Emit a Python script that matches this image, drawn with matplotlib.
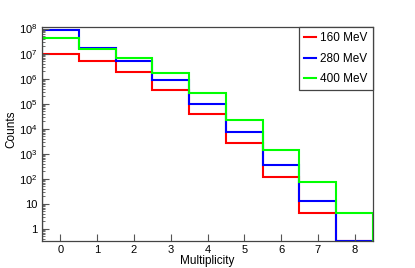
import numpy as np
import matplotlib
matplotlib.use("Agg")
import matplotlib.pyplot as plt
from matplotlib.ticker import FixedLocator, FuncFormatter, LogLocator, NullFormatter

plt.rcParams['font.family'] = ['Liberation Sans', 'DejaVu Sans']
plt.rcParams['mathtext.fontset'] = 'custom'
plt.rcParams['mathtext.rm'] = 'Liberation Sans'
plt.rcParams['mathtext.it'] = 'Liberation Sans'

multiplicity = [0, 1, 2, 3, 4, 5, 6, 7, 8]
edges = np.arange(-0.5, 9.0, 1.0)
labels = ["160 MeV", "280 MeV", "400 MeV"]
colors = ["#ff0000", "#0000ff", "#00ff00"]
counts_160 = [1.0e7, 4.9e6, 1.8e6, 3.5e5, 3.9e4, 2.8e3, 120, 4.5, 0]
counts_280 = [8.5e7, 1.7e7, 5.1e6, 8.7e5, 9.6e4, 7.3e3, 365, 13, 0]
counts_400 = [4.3e7, 1.5e7, 6.5e6, 1.7e6, 2.6e5, 2.3e4, 1.4e3, 72, 4.2]
y_decades = [0, 1, 2, 3, 4, 5, 6, 7, 8]

ymin, ymax = 0.33, 1.15e8

fig = plt.figure(figsize=(4.15, 2.68), dpi=100)
ax = fig.add_axes([0.101, 0.101, 0.798, 0.798])
ax.set_yscale('log')

for vals, lab, col in zip([counts_160, counts_280, counts_400], labels, colors):
    v = np.clip(np.asarray(vals, dtype=float), ymin, None)
    ax.stairs(v, edges, baseline=ymin, color=col, lw=1.5, label=lab)

ax.set_xlim(-0.5, 8.5)
ax.set_ylim(ymin, ymax)

ax.xaxis.set_major_locator(FixedLocator(multiplicity))
ax.yaxis.set_major_locator(FixedLocator([10.0 ** e for e in y_decades]))
ax.yaxis.set_minor_locator(LogLocator(base=10, subs=np.arange(2, 10), numticks=20))
ax.yaxis.set_minor_formatter(NullFormatter())

def yfmt(v, pos):
    e = int(round(np.log10(v)))
    if e == 0:
        return "1"
    if e == 1:
        return "10"
    return r"$\mathregular{10^{%d}}$" % e
ax.yaxis.set_major_formatter(FuncFormatter(yfmt))

ax.tick_params(axis='both', which='major', direction='in', length=5, width=0.8,
               color='#555555', labelsize=8, pad=3)
ax.tick_params(axis='y', which='minor', direction='in', length=2.5, width=0.6, color='#555555')
ax.tick_params(top=False, right=False)
for s in ax.spines.values():
    s.set_color('#444444')
    s.set_linewidth(0.9)

ax.set_xlabel("Multiplicity", fontsize=8.5, labelpad=0)
ax.set_ylabel("Counts", fontsize=8.5, labelpad=2)
ax.yaxis.set_label_coords(-0.075, 0.52)

leg = ax.legend(loc='upper right', borderaxespad=0, fontsize=8.5, frameon=True,
                fancybox=False, framealpha=1, edgecolor='#444444',
                handlelength=1.05, handletextpad=0.35, labelspacing=0.7,
                borderpad=0.45)
leg.get_frame().set_linewidth(0.9)
for h in leg.get_lines():
    h.set_linewidth(1.5)

fig.savefig("out.png", dpi=100)
